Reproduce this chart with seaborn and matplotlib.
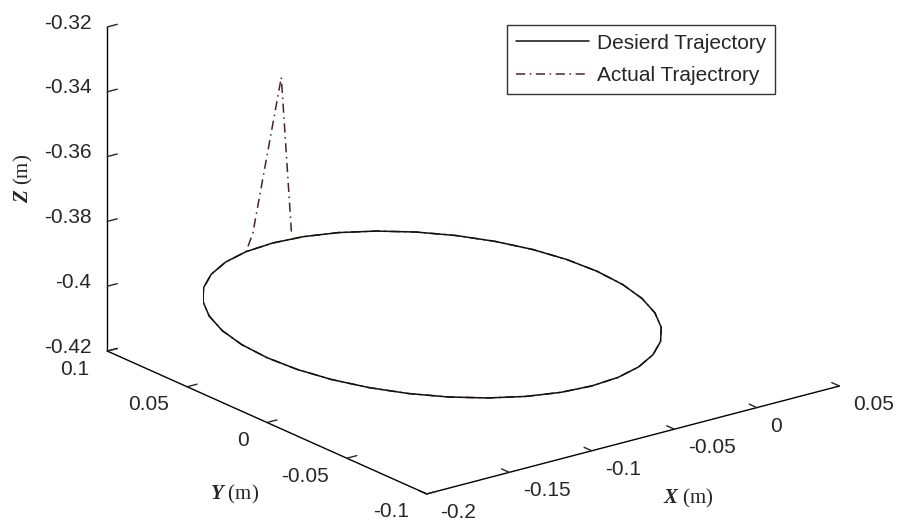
import numpy as np
import matplotlib
matplotlib.use("Agg")
import matplotlib.pyplot as plt
import seaborn as sns
from mpl_toolkits.mplot3d import proj3d

# desired trajectory: circle in the plane Z = -0.4 (points every 10 degrees)
desired_x = [0.0, -0.0015, -0.0060, -0.0134, -0.0234, -0.0357, -0.0500, -0.0658, -0.0826,
             -0.1000, -0.1174, -0.1342, -0.1500, -0.1643, -0.1766, -0.1866, -0.1940, -0.1985,
             -0.2000, -0.1985, -0.1940, -0.1866, -0.1766, -0.1643, -0.1500, -0.1342, -0.1174,
             -0.1000, -0.0826, -0.0658, -0.0500, -0.0357, -0.0234, -0.0134, -0.0060, -0.0015, 0.0]
desired_y = [0.0, 0.0174, 0.0342, 0.0500, 0.0643, 0.0766, 0.0866, 0.0940, 0.0985,
             0.1000, 0.0985, 0.0940, 0.0866, 0.0766, 0.0643, 0.0500, 0.0342, 0.0174,
             0.0, -0.0174, -0.0342, -0.0500, -0.0643, -0.0766, -0.0866, -0.0940, -0.0985,
             -0.1000, -0.0985, -0.0940, -0.0866, -0.0766, -0.0643, -0.0500, -0.0342, -0.0174, 0.0]
desired_z = [-0.4] * len(desired_x)

# actual trajectory: starts off the circle, overshoots in Z, then tracks the circle
start_x = [-0.0885, -0.0946, -0.1128]
start_y = [0.1000, 0.1000, 0.0990]
start_z = [-0.398, -0.3496, -0.395]
actual_x = start_x + desired_x[10:] + desired_x[1:11]
actual_y = start_y + desired_y[10:] + desired_y[1:11]
actual_z = start_z + desired_z[10:] + desired_z[1:11]

x_ticks = [-0.2, -0.15, -0.1, -0.05, 0, 0.05]
x_labels = ["-0.2", "-0.15", "-0.1", "-0.05", "0", "0.05"]
y_ticks = [-0.1, -0.05, 0, 0.05, 0.1]
y_labels = ["-0.1", "-0.05", "0", "0.05", "0.1"]
z_ticks = [-0.42, -0.4, -0.38, -0.36, -0.34, -0.32]
z_labels = ["-0.42", "-0.4", "-0.38", "-0.36", "-0.34", "-0.32"]

sns.set_style("white")
plt.rcParams["font.family"] = ["Liberation Sans", "DejaVu Sans"]
plt.rcParams["mathtext.fontset"] = "custom"
plt.rcParams["mathtext.it"] = "Liberation Serif:italic:bold"
plt.rcParams["mathtext.rm"] = "Liberation Serif"

fig = plt.figure(figsize=(8.98, 5.27), dpi=100)
ax = fig.add_axes([0.0192, 0.0947, 1, 1], projection="3d", proj_type="ortho")
ax.computed_zorder = False

ax.plot(actual_x, actual_y, actual_z, color="#4a2424", lw=1.1,
        linestyle=(0, (6, 3, 1, 3)), label="Actual Trajectrory")
ax.plot(desired_x, desired_y, desired_z, color="#111111", lw=1.1, label="Desierd Trajectory")

ax.set_xlim(-0.2, 0.05)
ax.set_ylim(-0.1, 0.1)
ax.set_zlim(-0.42, -0.32)
ax.set_xticks(x_ticks)
ax.set_yticks(y_ticks)
ax.set_zticks(z_ticks)

ax.view_init(elev=20, azim=-127.4)
ax.set_box_aspect((0.988, 1, 0.656), zoom=1.5026)
ax.grid(False)
for axis in (ax.xaxis, ax.yaxis, ax.zaxis):
    axis.set_pane_color((1, 1, 1, 0))
    axis.pane.set_edgecolor((1, 1, 1, 0))
    axis.line.set_color("black")
    axis.line.set_linewidth(1.0)
    axis.set_tick_params(labelbottom=False, labeltop=False)
    axis._axinfo["tick"]["inward_factor"] = 0.0
    axis._axinfo["tick"]["outward_factor"] = 0.3
    axis._axinfo["tick"]["linewidth"] = {True: 1.0, False: 1.0}

# draw once so the projection matrix is final, then put MATLAB-style tick labels
# (X left-aligned, Y and Z right-aligned) at projected positions next to the ticks
fig.canvas.draw()
M = ax.get_proj()


def tick_label(x, y, z, text, ha):
    px, py, _ = proj3d.proj_transform(x, y, z, M)
    ax.text2D(px, py, text, transform=ax.transData, ha=ha, va="center", fontsize=15)


for xv, lab in zip(x_ticks, x_labels):
    tick_label(xv, -0.1084, -0.4239, lab, "left")
for yv, lab in zip(y_ticks, y_labels):
    tick_label(-0.2108, yv, -0.4241, lab, "right")
for zv, lab in zip(z_ticks, z_labels):
    tick_label(-0.2061, 0.1037, zv + 0.0012, lab, "right")

# axis titles placed as plain figure text, MATLAB-style (horizontal X/Y, vertical Z)
fig.text(688 / 898, 1 - 498 / 527, r"$X$ (m)", fontsize=15, family="Liberation Serif",
         ha="center", va="center")
fig.text(235 / 898, 1 - 494 / 527, r"$Y$ (m)", fontsize=15, family="Liberation Serif",
         ha="center", va="center")
fig.text(23 / 898, 1 - 178 / 527, r"$Z$ (m)", fontsize=15, family="Liberation Serif",
         ha="center", va="center", rotation=90)

handles, labels = ax.get_legend_handles_labels()
leg = fig.legend(handles[::-1], labels[::-1], loc="upper right", bbox_to_anchor=(775 / 898, 1 - 25 / 527),
                 borderaxespad=0, fontsize=15, frameon=True, fancybox=False, edgecolor="black",
                 handlelength=3.5, handletextpad=0.4, labelspacing=0.64, borderpad=0.42)
leg.get_frame().set_linewidth(1.0)

fig.savefig("out.png", dpi=100)
